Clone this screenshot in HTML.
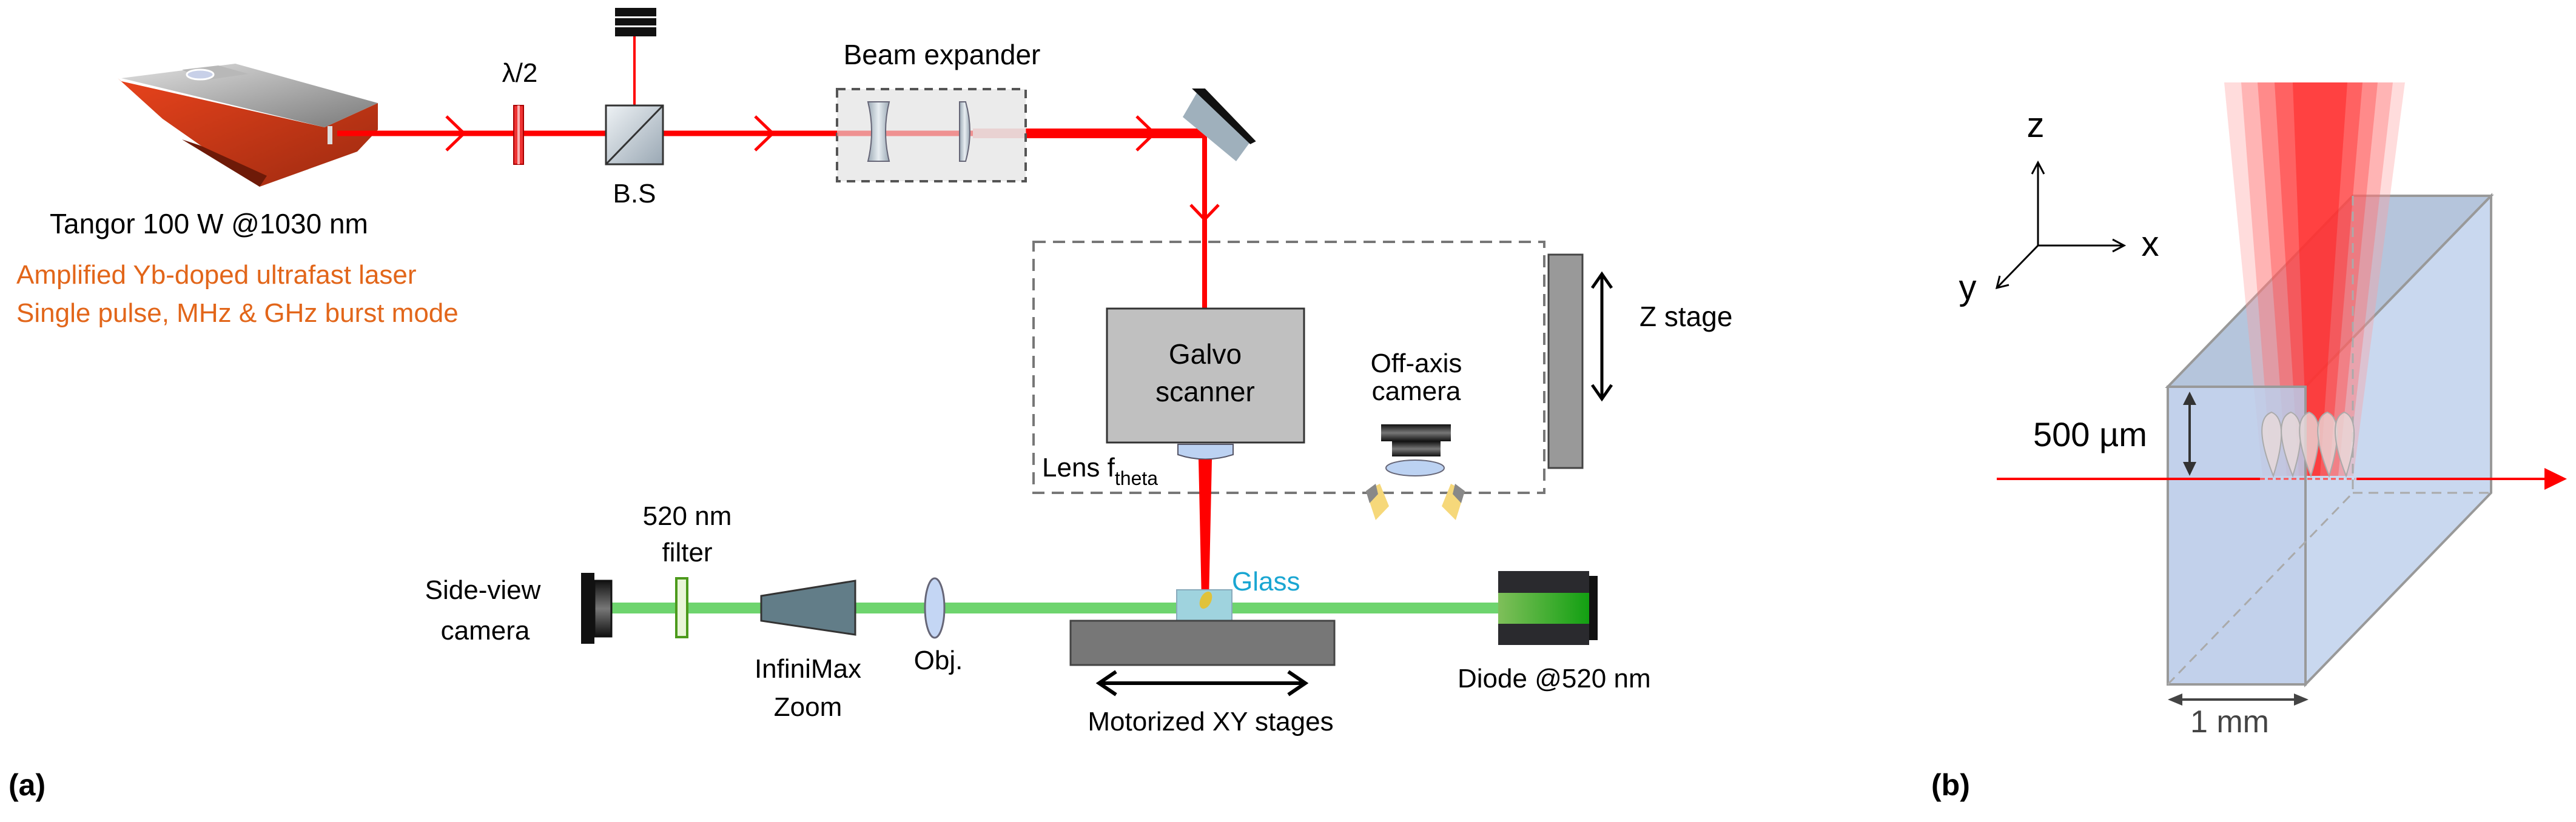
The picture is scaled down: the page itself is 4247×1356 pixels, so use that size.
<!DOCTYPE html>
<html><head><meta charset="utf-8"><style>
html,body{margin:0;padding:0;background:#fff;}
svg{display:block;}
text{font-family:"Liberation Sans",sans-serif;}
</style></head><body>
<svg width="4247" height="1356" viewBox="0 0 4247 1356" xmlns="http://www.w3.org/2000/svg">
<defs>
<linearGradient id="bs" x1="0" y1="0" x2="1" y2="1"><stop offset="0" stop-color="#eef2f5"/><stop offset="1" stop-color="#9aa8b4"/></linearGradient>
<linearGradient id="lens" x1="0" y1="0" x2="1" y2="0"><stop offset="0" stop-color="#9aa8b4"/><stop offset=".5" stop-color="#e8eef2"/><stop offset="1" stop-color="#9aa8b4"/></linearGradient>
<linearGradient id="las" x1="0" y1="0" x2="1" y2="1"><stop offset="0" stop-color="#e8431c"/><stop offset="1" stop-color="#9c2a10"/></linearGradient>
<linearGradient id="top" x1="0" y1="0" x2="1" y2="1"><stop offset="0" stop-color="#e0e0e0"/><stop offset="1" stop-color="#7a7a7a"/></linearGradient>
<linearGradient id="grn" x1="0" y1="0" x2="1" y2="0"><stop offset="0" stop-color="#7fbf5a"/><stop offset="1" stop-color="#12a012"/></linearGradient>
<linearGradient id="cam" x1="0" y1="0" x2="0" y2="1"><stop offset="0" stop-color="#111"/><stop offset=".5" stop-color="#777"/><stop offset="1" stop-color="#111"/></linearGradient>
</defs>

<!-- Laser device -->
<polygon points="194,129 268,196 428,308 589,250 623,214 623,170 535,210 200,134" fill="url(#las)"/>
<polygon points="300,230 428,308 440,290 330,240" fill="#6e1a08"/>
<polygon points="200,129 388,105 623,170 535,210" fill="url(#top)"/>
<polygon points="300,115 360,108 410,122 340,132" fill="#b8b8b8"/>
<ellipse cx="330" cy="123" rx="22" ry="8" fill="#c8d0e8" stroke="#fff" stroke-width="3"/>
<rect x="540" y="208" width="8" height="30" fill="#ddd"/>

<!-- Red beam -->
<line x1="556" y1="220" x2="1380" y2="220" stroke="#ff0000" stroke-width="9"/>
<line x1="1380" y1="220" x2="1604" y2="220" stroke="#f36f6f" stroke-width="9"/>
<rect x="1604" y="212" width="384" height="16" fill="#ff0000"/>
<rect x="1604" y="212" width="88" height="16" fill="#f05a5a"/>
<line x1="1986" y1="220" x2="1986" y2="509" stroke="#ff0000" stroke-width="8"/>
<line x1="1046" y1="60" x2="1046" y2="173" stroke="#ff0000" stroke-width="4"/>
<g fill="none" stroke="#ff0000" stroke-width="5">
<polyline points="736,192 765,220 736,248"/>
<polyline points="1245,192 1274,220 1245,248"/>
<polyline points="1874,192 1903,220 1874,248"/>
<polyline points="1963,338 1986,362 2009,338"/>
</g>
<rect x="847" y="174" width="16" height="97" fill="#e33" stroke="#a00" stroke-width="2"/>
<rect x="853" y="174" width="4" height="97" fill="#f9b0b0"/>
<rect x="999" y="174" width="94" height="97" fill="url(#bs)" stroke="#333" stroke-width="3"/>
<line x1="999" y1="271" x2="1093" y2="174" stroke="#333" stroke-width="3"/>
<rect x="1014" y="13" width="68" height="14" fill="#111"/>
<rect x="1014" y="30" width="68" height="12" fill="#111"/>
<rect x="1014" y="45" width="68" height="15" fill="#111"/>
<rect x="1380" y="147" width="311" height="152" fill="#e8e8e8" fill-opacity=".85" stroke="#555" stroke-width="4" stroke-dasharray="14,10"/>
<line x1="1380" y1="220" x2="1604" y2="220" stroke="#f08080" stroke-width="9" stroke-opacity=".8"/>
<path d="M1431,168 L1466,168 Q1454,217 1466,266 L1431,266 Q1443,217 1431,168 Z" fill="url(#lens)" stroke="#667" stroke-width="2"/>
<path d="M1582,168 L1592,168 Q1606,217 1592,266 L1582,266 Z" fill="url(#lens)" stroke="#667" stroke-width="2"/>
<polygon points="1950,193 1975,150 2062,233 2038,266" fill="#9fb0bc"/>
<polygon points="1975,150 1985,150 2064,232 2062,233" fill="#111" stroke="#111" stroke-width="8"/>

<text x="857" y="135" font-size="44" text-anchor="middle">λ/2</text>
<text x="1046" y="334" font-size="44" text-anchor="middle">B.S</text>
<text x="1553" y="106" font-size="46" text-anchor="middle">Beam expander</text>
<text x="82" y="385" font-size="46">Tangor 100 W @1030 nm</text>
<text x="27" y="468" font-size="44" fill="#e2661a">Amplified Yb-doped ultrafast laser</text>
<text x="27" y="531" font-size="44" fill="#e2661a">Single pulse, MHz &amp; GHz burst mode</text>

<rect x="1704" y="399" width="842" height="414" fill="none" stroke="#777" stroke-width="4" stroke-dasharray="20,12"/>
<rect x="1825" y="509" width="325" height="221" fill="#c0c0c0" stroke="#333" stroke-width="3"/>
<text x="1987" y="600" font-size="46" text-anchor="middle">Galvo</text>
<text x="1987" y="662" font-size="46" text-anchor="middle">scanner</text>
<path d="M1942,733 L2033,733 L2033,750 Q1987,765 1942,750 Z" fill="#bcd2f2" stroke="#556" stroke-width="2"/>
<text x="1718" y="786" font-size="44">Lens f<tspan font-size="32" dy="14">theta</tspan></text>
<polygon points="1976,758 1998,758 1993,990 1981,990" fill="#ff0000"/>
<text x="2335" y="614" font-size="44" text-anchor="middle">Off-axis</text>
<text x="2335" y="660" font-size="44" text-anchor="middle">camera</text>
<rect x="2277" y="700" width="115" height="28" fill="url(#cam)"/>
<rect x="2295" y="728" width="80" height="25" fill="url(#cam)"/>
<ellipse cx="2333" cy="772" rx="48" ry="13" fill="#bcd2f2" stroke="#667" stroke-width="2"/>
<polygon points="2252,810 2275,798 2290,835 2268,858" fill="#f6d87a"/>
<polygon points="2252,810 2268,798 2272,815 2258,830" fill="#888"/>
<polygon points="2415,810 2392,798 2377,835 2400,858" fill="#f6d87a"/>
<polygon points="2415,810 2399,798 2395,815 2409,830" fill="#888"/>
<rect x="2553" y="420" width="56" height="352" fill="#999" stroke="#444" stroke-width="3"/>
<line x1="2641" y1="455" x2="2641" y2="655" stroke="#000" stroke-width="5"/>
<polyline points="2625,475 2641,452 2657,475" fill="none" stroke="#000" stroke-width="5"/>
<polyline points="2625,635 2641,658 2657,635" fill="none" stroke="#000" stroke-width="5"/>
<text x="2703" y="538" font-size="46">Z stage</text>

<rect x="1007" y="994" width="1466" height="18" fill="#6ed46e"/>
<rect x="958" y="945" width="22" height="117" fill="#111"/>
<rect x="980" y="958" width="28" height="92" fill="url(#cam)" stroke="#111" stroke-width="3"/>
<text x="796" y="988" font-size="44" text-anchor="middle">Side-view</text>
<text x="800" y="1055" font-size="44" text-anchor="middle">camera</text>
<rect x="1115" y="954" width="18" height="97" fill="#e9f5d8" stroke="#4c9a1c" stroke-width="4"/>
<text x="1133" y="866" font-size="44" text-anchor="middle">520 nm</text>
<text x="1133" y="926" font-size="44" text-anchor="middle">filter</text>
<polygon points="1255,983 1410,958 1410,1047 1255,1024" fill="#627d88" stroke="#333" stroke-width="3"/>
<text x="1332" y="1118" font-size="44" text-anchor="middle">InfiniMax</text>
<text x="1332" y="1181" font-size="44" text-anchor="middle">Zoom</text>
<ellipse cx="1541" cy="1003" rx="16" ry="49" fill="#c4d6f4" stroke="#667" stroke-width="3"/>
<text x="1547" y="1104" font-size="44" text-anchor="middle">Obj.</text>
<rect x="1940" y="973" width="91" height="51" fill="#9fd3de" stroke="#8ab" stroke-width="2"/>
<ellipse cx="1988" cy="990" rx="9" ry="15" fill="#e0c23a" transform="rotate(25 1988 990)"/>
<text x="2031" y="974" font-size="44" fill="#1aa6d2">Glass</text>
<rect x="1765" y="1024" width="435" height="73" fill="#777" stroke="#444" stroke-width="3"/>
<line x1="1812" y1="1127" x2="2152" y2="1127" stroke="#000" stroke-width="6"/>
<polyline points="1840,1108 1812,1127 1840,1146" fill="none" stroke="#000" stroke-width="6"/>
<polyline points="2124,1108 2152,1127 2124,1146" fill="none" stroke="#000" stroke-width="6"/>
<text x="1996" y="1205" font-size="44" text-anchor="middle">Motorized XY stages</text>
<rect x="2470" y="942" width="150" height="122" fill="#2a2a2e"/>
<rect x="2620" y="950" width="14" height="106" fill="#111"/>
<rect x="2470" y="978" width="150" height="51" fill="url(#grn)"/>
<text x="2403" y="1134" font-size="44">Diode @520 nm</text>

<text x="14" y="1312" font-size="50" font-family="Liberation Serif" font-weight="bold">(a)</text>

<!-- Panel b -->
<polygon points="3574,638 3879,323 4107,323 3801,638" fill="#b5c5dc" stroke="#999" stroke-width="4"/>
<polygon points="3801,638 4107,323 4107,813 3801,1129" fill="#c9d8ef" stroke="#999" stroke-width="4"/>
<g>
<polygon points="3667,136 3965,136 3880,785 3730,785" fill="#ff9a9a" fill-opacity=".35"/>
<polygon points="3695,136 3945,136 3870,785 3745,785" fill="#ff6a6a" fill-opacity=".35"/>
<polygon points="3722,136 3920,136 3855,785 3770,785" fill="#ff4a4a" fill-opacity=".4"/>
<polygon points="3750,136 3895,136 3840,785 3790,785" fill="#ff3030" fill-opacity=".45"/>
<polygon points="3780,136 3870,136 3825,785 3805,785" fill="#ff2020" fill-opacity=".5"/>
</g>
<polygon points="3574,638 3801,638 3801,1129 3574,1129" fill="#b7c9e8" fill-opacity=".85" stroke="#999" stroke-width="4"/>
<g stroke="#aaa" stroke-width="3" stroke-dasharray="16,10" fill="none">
<line x1="3879" y1="323" x2="3879" y2="813"/>
<line x1="3879" y1="813" x2="4107" y2="813"/>
<line x1="3574" y1="1129" x2="3879" y2="813"/>
</g>
<g fill="#e8dada" fill-opacity=".8" stroke="#aaa" stroke-width="2">
<path d="M3748,785 C3730,740 3718,690 3745,680 C3770,690 3762,740 3748,785 Z"/>
<path d="M3780,785 C3762,740 3750,690 3777,680 C3802,690 3794,740 3780,785 Z"/>
<path d="M3810,785 C3792,740 3780,690 3807,680 C3832,690 3824,740 3810,785 Z"/>
<path d="M3840,785 C3822,740 3810,690 3837,680 C3862,690 3854,740 3840,785 Z"/>
<path d="M3868,785 C3850,740 3840,690 3865,680 C3890,690 3882,740 3868,785 Z"/>
</g>
<line x1="3292" y1="790" x2="3726" y2="790" stroke="#ff0000" stroke-width="4"/>
<line x1="3726" y1="790" x2="3883" y2="790" stroke="#ff5050" stroke-width="3" stroke-dasharray="8,5"/>
<line x1="3885" y1="790" x2="4200" y2="790" stroke="#ff0000" stroke-width="4"/>
<polygon points="4195,772 4232,790 4195,808" fill="#ff0000"/>
<line x1="3610" y1="652" x2="3610" y2="777" stroke="#333" stroke-width="4"/>
<polygon points="3599,668 3610,646 3621,668" fill="#333"/>
<polygon points="3599,762 3610,785 3621,762" fill="#333"/>
<text x="3352" y="736" font-size="56">500 µm</text>
<line x1="3580" y1="1154" x2="3800" y2="1154" stroke="#444" stroke-width="4"/>
<polygon points="3598,1144 3574,1154 3598,1164" fill="#444"/>
<polygon points="3782,1144 3806,1154 3782,1164" fill="#444"/>
<text x="3676" y="1208" font-size="52" text-anchor="middle" fill="#444">1 mm</text>
<g stroke="#000" stroke-width="3" fill="none">
<line x1="3360" y1="405" x2="3360" y2="270"/>
<polyline points="3350,287 3360,268 3370,287"/>
<line x1="3360" y1="405" x2="3500" y2="405"/>
<polyline points="3483,395 3502,405 3483,415"/>
<line x1="3360" y1="405" x2="3294" y2="473"/>
<polyline points="3297,455 3292,475 3312,470"/>
</g>
<text x="3356" y="226" font-size="58" text-anchor="middle">z</text>
<text x="3545" y="422" font-size="58" text-anchor="middle">x</text>
<text x="3244" y="494" font-size="58" text-anchor="middle">y</text>
<text x="3184" y="1312" font-size="50" font-family="Liberation Serif" font-weight="bold">(b)</text>
</svg>
</body></html>
